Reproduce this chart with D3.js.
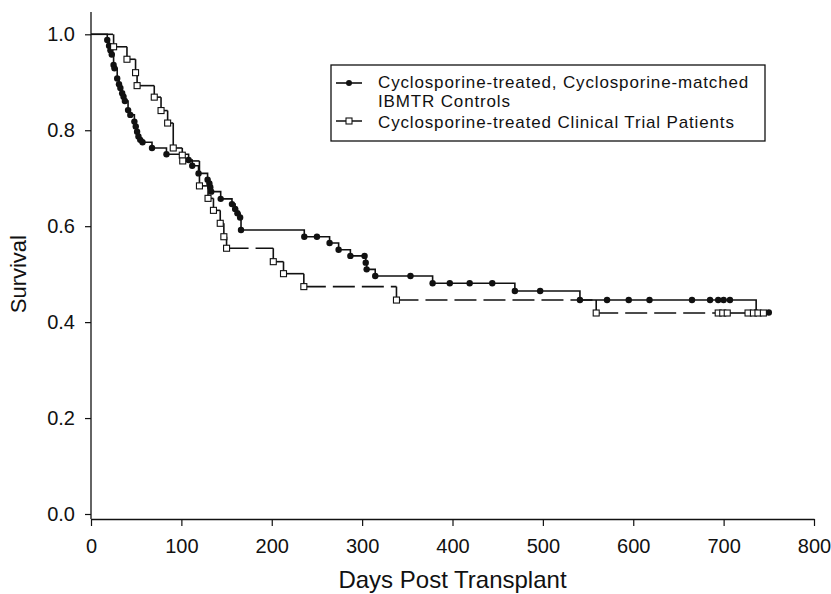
<!DOCTYPE html>
<html>

<head>
  <title>Survival</title>
</head>

<body>

  <svg id="svg" width="831" height="594"></svg>

  <script src="https://d3js.org/d3.v7.min.js"></script>
  <script>
    // controls (filled dots)
    const controlDays = [18, 20, 21.5, 23, 25, 26, 29, 31, 32.5, 34.5, 36, 37.5, 41, 43.5, 48, 49.5, 51, 52.5, 54.5, 57,
      67.5, 83.5, 108, 112, 119, 129, 131, 132, 133, 143.5, 156, 159.5, 162, 165, 166, 236, 250, 264, 274, 287,
      302.7, 304, 305, 314.5, 353.5, 378, 397, 419, 444, 469, 497, 541, 571, 595, 618, 665, 685, 694, 700, 707, 736, 750]
    const controlSurv = [0.988, 0.976, 0.967, 0.958, 0.936, 0.929, 0.908, 0.896, 0.888, 0.877, 0.870, 0.861, 0.842, 0.832, 0.818, 0.808, 0.797, 0.787, 0.780, 0.775,
      0.763, 0.750, 0.738, 0.726, 0.710, 0.697, 0.689, 0.681, 0.672, 0.657, 0.646, 0.636, 0.627, 0.618, 0.592, 0.578, 0.578, 0.565, 0.551, 0.538,
      0.538, 0.524, 0.510, 0.496, 0.496, 0.481, 0.481, 0.481, 0.481, 0.465, 0.465, 0.446, 0.446, 0.446, 0.446, 0.446, 0.446, 0.446, 0.446, 0.446, 0.420, 0.420]

    // clinical trial patients (open squares)
    const trialDays = [25, 39.8, 49.3, 51, 70, 77.5, 84.8, 91, 101, 101.5, 120, 129.5, 135.5, 143, 147, 150, 201.7, 213, 235.5, 338,
      559, 694, 699, 704, 727, 733, 738, 744]
    const trialSurv = [0.974, 0.948, 0.920, 0.893, 0.869, 0.841, 0.815, 0.763, 0.748, 0.736, 0.684, 0.658, 0.633, 0.606, 0.578, 0.554, 0.526, 0.501, 0.474, 0.446,
      0.419, 0.419, 0.419, 0.419, 0.419, 0.419, 0.419, 0.419]

    const xTicks = [0, 100, 200, 300, 400, 500, 600, 700, 800]
    const yTicks = [0, 0.2, 0.4, 0.6, 0.8, 1.0]

    const legendLabels = ['Cyclosporine-treated, Cyclosporine-matched', 'IBMTR Controls',
      'Cyclosporine-treated Clinical Trial Patients']

    const svg = d3.select('#svg')
    const font = 'Liberation Sans, Arial, sans-serif'

    const xscale = d3.scaleLinear()
      .domain([0, 800])
      .range([91, 814])
    const yscale = d3.scaleLinear()
      .domain([0, 1])
      .range([514, 34.3])

    // axes
    const xAxis = svg.append('g')
      .attr('transform', 'translate(0,519)')
      .call(d3.axisBottom(xscale).tickValues(xTicks).tickSize(7).tickSizeOuter(0).tickPadding(13))
    const yAxis = svg.append('g')
      .attr('transform', 'translate(91,0)')
      .call(d3.axisLeft(yscale).tickValues(yTicks).tickSize(6).tickFormat(d3.format('.1f')).tickPadding(10))
    yAxis.select('.domain').remove()
    svg.append('line')
      .attr('x1', 91).attr('x2', 91).attr('y1', 12).attr('y2', 519)
      .attr('stroke', '#111').attr('stroke-width', 1.3)

    svg.selectAll('.tick line').attr('stroke', '#111').attr('stroke-width', 1.2)
    xAxis.select('.domain').attr('stroke', '#111').attr('stroke-width', 1.5)
    svg.selectAll('.tick text')
      .attr('fill', '#111')
      .style('font-family', font)
      .style('font-size', '20px')

    svg.append('text')
      .attr('x', xscale(400) + 0)
      .attr('y', 588)
      .attr('text-anchor', 'middle')
      .style('font-family', font)
      .style('font-size', '24px')
      .attr('fill', '#111')
      .text('Days Post Transplant')

    svg.append('text')
      .attr('transform', 'translate(26,' + yscale(0.5) + ') rotate(-90)')
      .attr('text-anchor', 'middle')
      .style('font-family', font)
      .style('font-size', '22px')
      .attr('fill', '#111')
      .text('Survival')

    // step lines
    const controlPts = [[0, 1]].concat(controlDays.map((d, i) => [d, controlSurv[i]]))
    const trialPts = [[0, 1]].concat(trialDays.map((d, i) => [d, trialSurv[i]]))

    const linegen = d3.line()
      .x(d => xscale(d[0]))
      .y(d => yscale(d[1]))
      .curve(d3.curveStepAfter)

    svg.append('path')
      .attr('d', linegen(controlPts))
      .attr('stroke', '#111')
      .attr('stroke-width', 1.6)
      .attr('fill', 'none')

    // trial line: dash restarts on every segment
    const segs = []
    for (let i = 1; i < trialPts.length; i++) {
      const p = trialPts[i - 1], q = trialPts[i]
      if (q[0] > p[0]) segs.push([[p[0], p[1]], [q[0], p[1]]])
      if (q[1] < p[1]) segs.push([[q[0], p[1]], [q[0], q[1]]])
    }
    svg.append('g').selectAll('line')
      .data(segs)
      .join('line')
      .attr('x1', d => xscale(d[0][0]))
      .attr('y1', d => yscale(d[0][1]))
      .attr('x2', d => xscale(d[1][0]))
      .attr('y2', d => yscale(d[1][1]))
      .attr('stroke', '#111')
      .attr('stroke-width', 1.6)
      .attr('stroke-dasharray', '22,7')

    // markers
    svg.append('g').selectAll('circle')
      .data(controlPts.slice(1))
      .join('circle')
      .attr('cx', d => xscale(d[0]))
      .attr('cy', d => yscale(d[1]))
      .attr('r', 3.2)
      .attr('fill', '#111')

    svg.append('g').selectAll('rect')
      .data(trialPts.slice(1))
      .join('rect')
      .attr('x', d => xscale(d[0]) - 3)
      .attr('y', d => yscale(d[1]) - 3)
      .attr('width', 6)
      .attr('height', 6)
      .attr('fill', 'white')
      .attr('stroke', '#111')
      .attr('stroke-width', 1.1)

    // legend
    const lg = svg.append('g')
    lg.append('rect')
      .attr('x', 331).attr('y', 65).attr('width', 434).attr('height', 76)
      .attr('fill', 'white').attr('stroke', '#111').attr('stroke-width', 1.3)
    lg.append('line')
      .attr('x1', 336).attr('x2', 362).attr('y1', 83).attr('y2', 83)
      .attr('stroke', '#111').attr('stroke-width', 1.6)
    lg.append('circle')
      .attr('cx', 349).attr('cy', 83).attr('r', 3).attr('fill', '#111')
    lg.append('line')
      .attr('x1', 336).attr('x2', 362).attr('y1', 121).attr('y2', 121)
      .attr('stroke', '#111').attr('stroke-width', 1.6).attr('stroke-dasharray', '11,4')
    lg.append('rect')
      .attr('x', 346).attr('y', 118).attr('width', 6).attr('height', 6)
      .attr('fill', 'white').attr('stroke', '#111').attr('stroke-width', 1.1)
    lg.selectAll('text')
      .data(legendLabels)
      .join('text')
      .attr('x', 378)
      .attr('y', (d, i) => [88, 107, 128][i])
      .style('font-family', font)
      .style('font-size', '17px')
      .style('letter-spacing', '0.85px')
      .attr('fill', '#111')
      .text(d => d)
  </script>
</body>

<style>
  body,
  html {
    margin: 0;
    padding: 0;
    background: white;
  }
</style>

</html>
